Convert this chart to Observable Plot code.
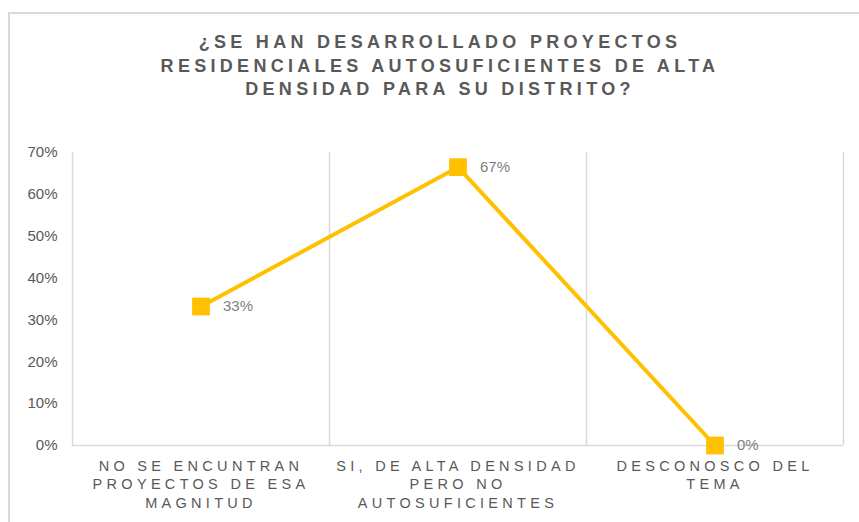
<!DOCTYPE html>
<html>
<head>
<meta charset="utf-8">
<script src="https://cdn.jsdelivr.net/npm/d3@7"></script>
<script src="https://cdn.jsdelivr.net/npm/@observablehq/plot@0.6"></script>
<style>
  html, body { margin: 0; padding: 0; background: #fff; }
  #wrap { position: relative; width: 859px; height: 522px; overflow: hidden; font-family: "Liberation Sans", Arial, sans-serif; }
  #frame { position: absolute; left: 8px; top: 12px; width: 1000px; height: 1000px; border-left: 2px solid #d9d9d9; border-top: 2px solid #d9d9d9; box-sizing: border-box; }
  #title { position: relative; height: 110px; box-sizing: border-box; padding-top: 31px; width: 880px; text-align: center; font-weight: bold; font-size: 18px; letter-spacing: 4.3px; line-height: 23.5px; color: #595959; }
  #chart svg { display: block; }
  #chart .xax text { letter-spacing: 4.3px; }
</style>
</head>
<body>
<div id="wrap">
  <div id="frame"></div>
  <div id="title">¿SE HAN DESARROLLADO PROYECTOS<br>RESIDENCIALES AUTOSUFICIENTES DE ALTA<br>DENSIDAD PARA SU DISTRITO?</div>
  <div id="chart"></div>
</div>
<script>
const categories = [
  "NO SE ENCUNTRAN\nPROYECTOS DE ESA\nMAGNITUD",
  "SI, DE ALTA DENSIDAD\nPERO NO\nAUTOSUFICIENTES",
  "DESCONOSCO DEL\nTEMA"
];
const values = [0.332, 0.665, 0.0];
const valueLabels = ["33%", "67%", "0%"];
const yTicks = [0, 0.1, 0.2, 0.3, 0.4, 0.5, 0.6, 0.7];

const data = categories.map((c, i) => ({ pos: i + 0.5, cat: c, value: values[i], label: valueLabels[i] }));
const boundaries = d3.range(categories.length + 1);

const chart = Plot.plot({
  width: 859,
  height: 412,
  marginLeft: 72,
  marginRight: 16,
  marginTop: 42,
  marginBottom: 77,
  style: { fontFamily: "'Liberation Sans', Arial, sans-serif", background: "transparent" },
  x: { domain: [0, categories.length] },
  y: { domain: [0, 0.7] },
  marks: [
    Plot.ruleX(boundaries, { stroke: "#d9d9d9", strokeWidth: 1.5 }),
    Plot.ruleY([0], { stroke: "#d9d9d9", strokeWidth: 1.5 }),
    Plot.axisY({
      ticks: yTicks, tickSize: 0, tickPadding: 15, tickFormat: d => Math.round(d * 100) + "%",
      label: null, fill: "#595959", fontSize: 15
    }),
    Plot.axisX({
      ticks: data.map(d => d.pos), tickSize: 0, tickPadding: 12,
      tickFormat: (d, i) => categories[i], label: null, fill: "#595959", fontSize: 14.5,
      lineHeight: 1.28, className: "xax"
    }),
    Plot.line(data, { x: "pos", y: "value", stroke: "#FFC000", strokeWidth: 4 }),
    Plot.dot(data, { x: "pos", y: "value", symbol: "square", r: 10, fill: "#FFC000", stroke: "none" }),
    Plot.text(data, { x: "pos", y: "value", text: "label", dx: 22, textAnchor: "start", fill: "#808080", fontSize: 15 })
  ]
});
document.getElementById("chart").appendChild(chart);
</script>
</body>
</html>
